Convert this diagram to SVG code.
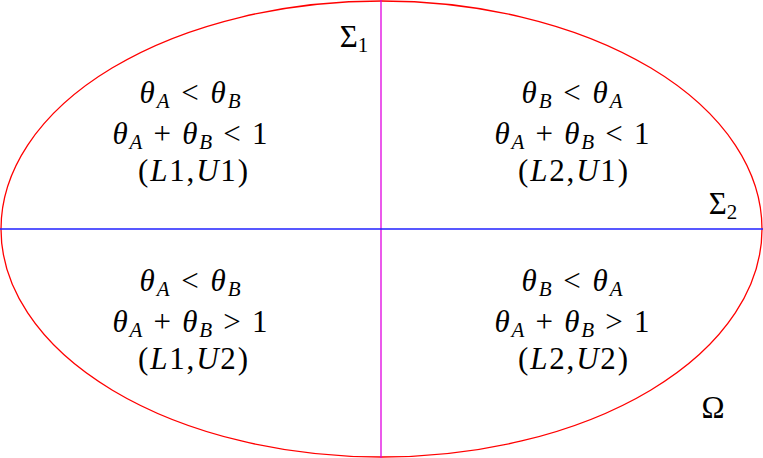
<svg xmlns="http://www.w3.org/2000/svg" width="763" height="458" viewBox="0 0 763 458">
<style>
text{font-family:'Liberation Serif',serif;font-size:31px;fill:#000;text-anchor:middle}
.i{font-style:italic}
.s{font-size:21px;font-style:italic}
.n{font-size:21px}
</style>
<rect width="763" height="458" fill="#fff"/>
<g id="omega-region">
<ellipse cx="381.5" cy="229" rx="380.5" ry="228" fill="none" stroke="#ff0000" stroke-width="1.3"/>
</g>
<g id="connectors">
<line id="sigma1-line" x1="381" y1="0" x2="381" y2="458" stroke="#e000e0" stroke-width="1.3"/>
<line id="sigma2-line" x1="0" y1="229" x2="763" y2="229" stroke="#2020ff" stroke-width="1.3"/>
</g>
<g id="label-sigma1"><text x="354" y="47"><tspan>Σ</tspan><tspan class="n" dy="5">1</tspan></text></g>
<g id="label-sigma2"><text x="723" y="214"><tspan>Σ</tspan><tspan class="n" dy="5">2</tspan></text></g>
<g id="label-omega"><text x="713" y="418">Ω</text></g>
<g id="region-L1U1">
<text x="190" y="103" textLength="101" lengthAdjust="spacing"><tspan class="i">θ</tspan><tspan class="s" dy="5">A</tspan><tspan dy="-5" xml:space="preserve"> &lt; </tspan><tspan class="i">θ</tspan><tspan class="s" dy="5">B</tspan></text>
<text x="190" y="144" textLength="155" lengthAdjust="spacing"><tspan class="i">θ</tspan><tspan class="s" dy="5">A</tspan><tspan dy="-5" xml:space="preserve"> + </tspan><tspan class="i">θ</tspan><tspan class="s" dy="5">B</tspan><tspan dy="-5" xml:space="preserve"> &lt; 1</tspan></text>
<text x="193" y="181" textLength="110" lengthAdjust="spacing">(<tspan class="i">L</tspan>1,<tspan class="i">U</tspan>1)</text>
</g>
<g id="region-L2U1">
<text x="572" y="103" textLength="101" lengthAdjust="spacing"><tspan class="i">θ</tspan><tspan class="s" dy="5">B</tspan><tspan dy="-5" xml:space="preserve"> &lt; </tspan><tspan class="i">θ</tspan><tspan class="s" dy="5">A</tspan></text>
<text x="572" y="144" textLength="155" lengthAdjust="spacing"><tspan class="i">θ</tspan><tspan class="s" dy="5">A</tspan><tspan dy="-5" xml:space="preserve"> + </tspan><tspan class="i">θ</tspan><tspan class="s" dy="5">B</tspan><tspan dy="-5" xml:space="preserve"> &lt; 1</tspan></text>
<text x="573" y="181" textLength="110" lengthAdjust="spacing">(<tspan class="i">L</tspan>2,<tspan class="i">U</tspan>1)</text>
</g>
<g id="region-L1U2">
<text x="190" y="291" textLength="101" lengthAdjust="spacing"><tspan class="i">θ</tspan><tspan class="s" dy="5">A</tspan><tspan dy="-5" xml:space="preserve"> &lt; </tspan><tspan class="i">θ</tspan><tspan class="s" dy="5">B</tspan></text>
<text x="190" y="332" textLength="155" lengthAdjust="spacing"><tspan class="i">θ</tspan><tspan class="s" dy="5">A</tspan><tspan dy="-5" xml:space="preserve"> + </tspan><tspan class="i">θ</tspan><tspan class="s" dy="5">B</tspan><tspan dy="-5" xml:space="preserve"> &gt; 1</tspan></text>
<text x="193" y="369" textLength="110" lengthAdjust="spacing">(<tspan class="i">L</tspan>1,<tspan class="i">U</tspan>2)</text>
</g>
<g id="region-L2U2">
<text x="572" y="291" textLength="101" lengthAdjust="spacing"><tspan class="i">θ</tspan><tspan class="s" dy="5">B</tspan><tspan dy="-5" xml:space="preserve"> &lt; </tspan><tspan class="i">θ</tspan><tspan class="s" dy="5">A</tspan></text>
<text x="572" y="332" textLength="155" lengthAdjust="spacing"><tspan class="i">θ</tspan><tspan class="s" dy="5">A</tspan><tspan dy="-5" xml:space="preserve"> + </tspan><tspan class="i">θ</tspan><tspan class="s" dy="5">B</tspan><tspan dy="-5" xml:space="preserve"> &gt; 1</tspan></text>
<text x="573" y="369" textLength="110" lengthAdjust="spacing">(<tspan class="i">L</tspan>2,<tspan class="i">U</tspan>2)</text>
</g>
</svg>
